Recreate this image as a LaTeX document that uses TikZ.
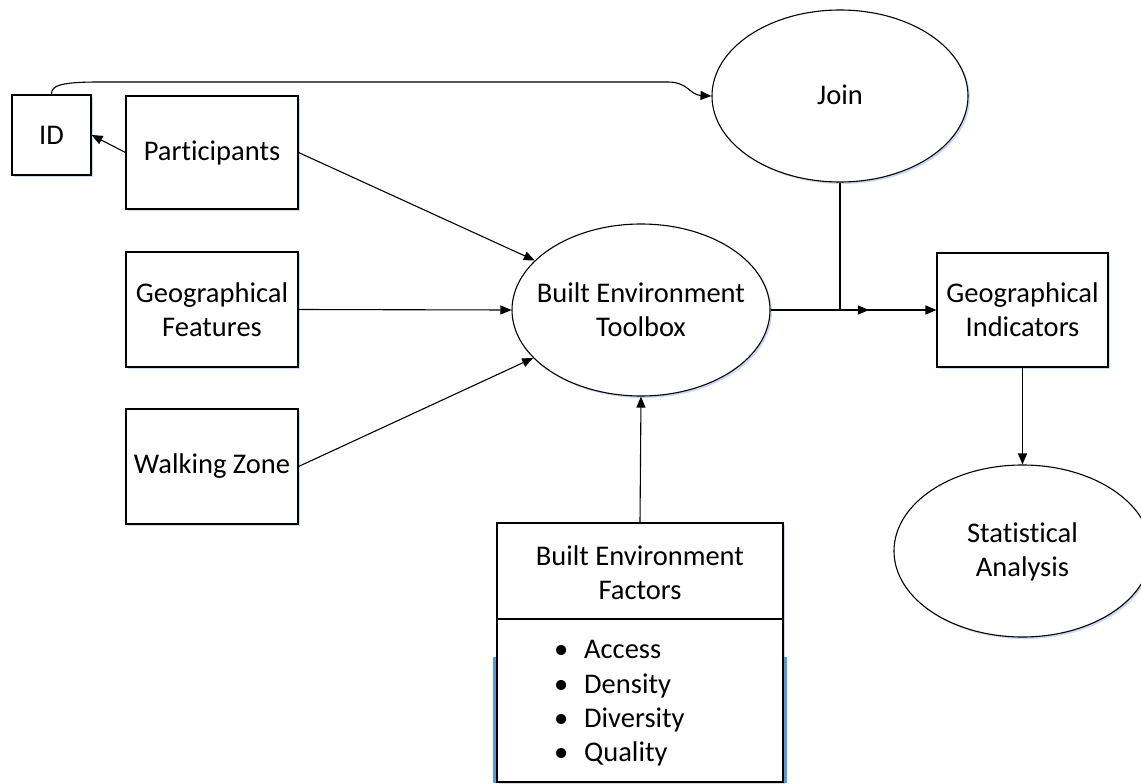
\documentclass[tikz,border=0pt]{standalone}
\usepackage{fontspec}
\setmainfont{Carlito}[Ligatures={NoCommon}]
\usetikzlibrary{shapes.geometric,arrows.meta,calc,shadows}

\definecolor{shadowblue}{RGB}{196,214,238}
\definecolor{selblue}{RGB}{91,155,213}

\begin{document}
\begin{tikzpicture}[x=1bp,y=-1bp,
  every node/.style={font=\fontsize{28.5bp}{34bp}\selectfont, align=center, inner sep=0pt},
  softshadow/.style={drop shadow={shadow xshift=2bp, shadow yshift=-2bp, fill=shadowblue, opacity=0.9}},
  box/.style={draw, line width=1.1bp, fill=white, rectangle, softshadow},
  oval/.style={draw, line width=1.1bp, fill=white, ellipse, softshadow},
  link/.style={line width=1.1bp, -{Triangle[length=11bp,width=9bp]}},
  plain/.style={line width=1.1bp}]

\useasboundingbox (0,0) rectangle (1141,784);

% source boxes on the left
\node[box, minimum width=79bp, minimum height=80bp] (id) at (51.5,135) {ID};
\node[box, minimum width=172bp, minimum height=113bp] (part) at (212,152.5) {Participants};
\node[box, minimum width=172bp, minimum height=115bp] (geo) at (212,309.5) {Geographical\\Features};
\node[box, minimum width=172bp, minimum height=115bp] (walk) at (212,466.5) {Walking Zone};

% processing ellipses
\node[oval, minimum width=256bp, minimum height=172bp] (join) at (840,96) {};
\node (joinT) at (840,95) {Join};
\node[oval, minimum width=258bp, minimum height=172bp] (tool) at (641,310) {};
\node (toolT) at (641,310) {Built Environment\\Toolbox};

% results
\node[box, minimum width=171bp, minimum height=114bp] (gi) at (1022.5,310) {Geographical\\Indicators};
\node[oval, minimum width=257bp, minimum height=172bp] (stat) at (1022.5,551) {};
\node (statT) at (1022.5,552) {Statistical\\Analysis};

% factor box with its divided list
\node[box, minimum width=286bp, minimum height=259bp] (bef) at (640,652.5) {};
\draw[plain] (bef.west |- 0,619) -- (bef.east |- 0,619);
\node (befT) at (640,573) {Built Environment\\Factors};
\node[anchor=base west] (acc) at (554,658) {\makebox[30bp][l]{\textbullet}Access};
\node[anchor=base west] (dens) at (554,693) {\makebox[30bp][l]{\textbullet}Density};
\node[anchor=base west] (div) at (554,727) {\makebox[30bp][l]{\textbullet}Diversity};
\node[anchor=base west] (qual) at (554,761) {\makebox[30bp][l]{\textbullet}Quality};
\draw[selblue, line width=2.5bp] ($(bef.south west)+(-1.8bp,0)$) -- ($(bef.west |- 0,657)+(-1.8bp,0)$);
\draw[selblue, line width=2.5bp] ($(bef.south east)+(1.8bp,0)$) -- ($(bef.east |- 0,657)+(1.8bp,0)$);

% connectors
\draw[link] (part.west) -- (id.east);
\draw[link] (id.north) .. controls (51,85) and (62,82) .. (100,82)
  -- (668,82) .. controls (688,82) and (690,95) .. (join.west);
\draw[link] (part.east) -- (tool.155.6);
\draw[link] (geo.east) -- (tool.west);
\draw[link] (walk.east) -- (tool.204.4);
\draw[link] (bef.north) -- (tool.south);

\coordinate (jn) at (join.south |- tool.east);
\draw[plain] (join.south) -- (jn);
\draw[plain] (tool.east) -- (jn);
\draw[link] (jn) -- ($(jn)!0.3!(gi.west)$);
\draw[link] (jn) -- (gi.west);
\draw[link] (gi.south) -- (stat.north);
\end{tikzpicture}
\end{document}
